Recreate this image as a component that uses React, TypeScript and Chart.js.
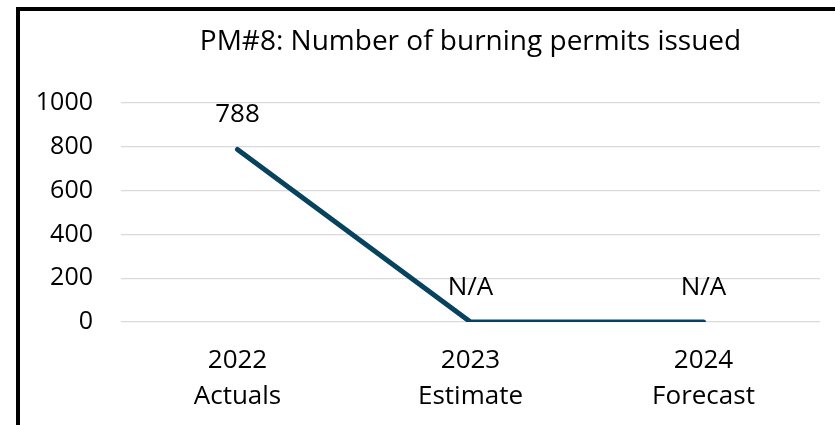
import React, { useEffect, useRef } from "react";
import { Chart, registerables } from "chart.js";

Chart.register(...registerables);

const categories: string[][] = [
  ["2022", "Actuals"],
  ["2023", "Estimate"],
  ["2024", "Forecast"],
];
const values: number[] = [788, 0, 0];
const valueLabels: string[] = ["788", "N/A", "N/A"];
const yTicks: number[] = [0, 200, 400, 600, 800, 1000];
const chartTitle = "PM#8: Number of burning permits issued";

const FONT = "'Open Sans', sans-serif";
const LINE_COLOR = "#07425F";

const valueLabelPlugin = {
  id: "valueLabelPlugin",
  afterDatasetsDraw(chart: any) {
    const meta = chart.getDatasetMeta(0);
    const ctx = chart.ctx;
    ctx.save();
    ctx.font = `26px ${FONT}`;
    ctx.fillStyle = "#000000";
    ctx.textAlign = "center";
    ctx.textBaseline = "alphabetic";
    meta.data.forEach((pt: any, i: number) => {
      ctx.fillText(valueLabels[i], pt.x, pt.y - 27);
    });
    ctx.restore();
  },
};

export default function App() {
  const canvasRef = useRef<HTMLCanvasElement | null>(null);

  useEffect(() => {
    if (!canvasRef.current) return;
    const chart = new Chart(canvasRef.current, {
      type: "line",
      data: {
        labels: categories,
        datasets: [
          {
            data: values,
            borderColor: LINE_COLOR,
            backgroundColor: LINE_COLOR,
            borderWidth: 5,
            borderCapStyle: "round",
            borderJoinStyle: "round",
            pointRadius: 0,
            pointHoverRadius: 0,
            tension: 0,
            fill: false,
          },
        ],
      },
      options: {
        responsive: false,
        animation: false,
        devicePixelRatio: 1,
        layout: { padding: { left: 0, right: 15, top: 0, bottom: 0 } },
        plugins: {
          legend: { display: false },
          tooltip: { enabled: false },
          title: {
            display: true,
            text: chartTitle,
            fullSize: false,
            color: "#000000",
            font: { family: FONT, size: 28, weight: "normal", lineHeight: 1.2 },
            padding: { top: 25, bottom: 44.4 },
          },
        },
        scales: {
          x: {
            offset: true,
            grid: { display: false, drawTicks: false },
            border: { display: false },
            ticks: {
              color: "#000000",
              padding: 21,
              maxRotation: 0,
              font: { family: FONT, size: 26, lineHeight: 1.385 },
            },
            afterFit(scale: any) {
              scale.height = 103;
            },
          },
          y: {
            min: yTicks[0],
            max: yTicks[yTicks.length - 1],
            grid: { color: "#D9D9D9", lineWidth: 1.2, drawTicks: false },
            border: { display: false },
            ticks: {
              stepSize: yTicks[1] - yTicks[0],
              color: "#000000",
              padding: 28,
              font: { family: FONT, size: 25 },
              callback: (v: any) => String(v),
            },
            afterFit(scale: any) {
              scale.width = 121;
            },
          },
        },
      },
      plugins: [valueLabelPlugin],
    });
    return () => chart.destroy();
  }, []);

  return (
    <div
      style={{
        position: "fixed",
        left: 0,
        top: 0,
        width: 835,
        height: 425,
        overflow: "hidden",
        background: "#ffffff",
      }}
    >
      <div
        style={{
          position: "absolute",
          left: 16,
          top: 7,
          width: 900,
          height: 500,
          border: "4px solid #000000",
          boxSizing: "border-box",
        }}
      />
      <canvas
        ref={canvasRef}
        width={835}
        height={425}
        style={{ position: "absolute", left: 0, top: 0, width: 835, height: 425 }}
      />
    </div>
  );
}
